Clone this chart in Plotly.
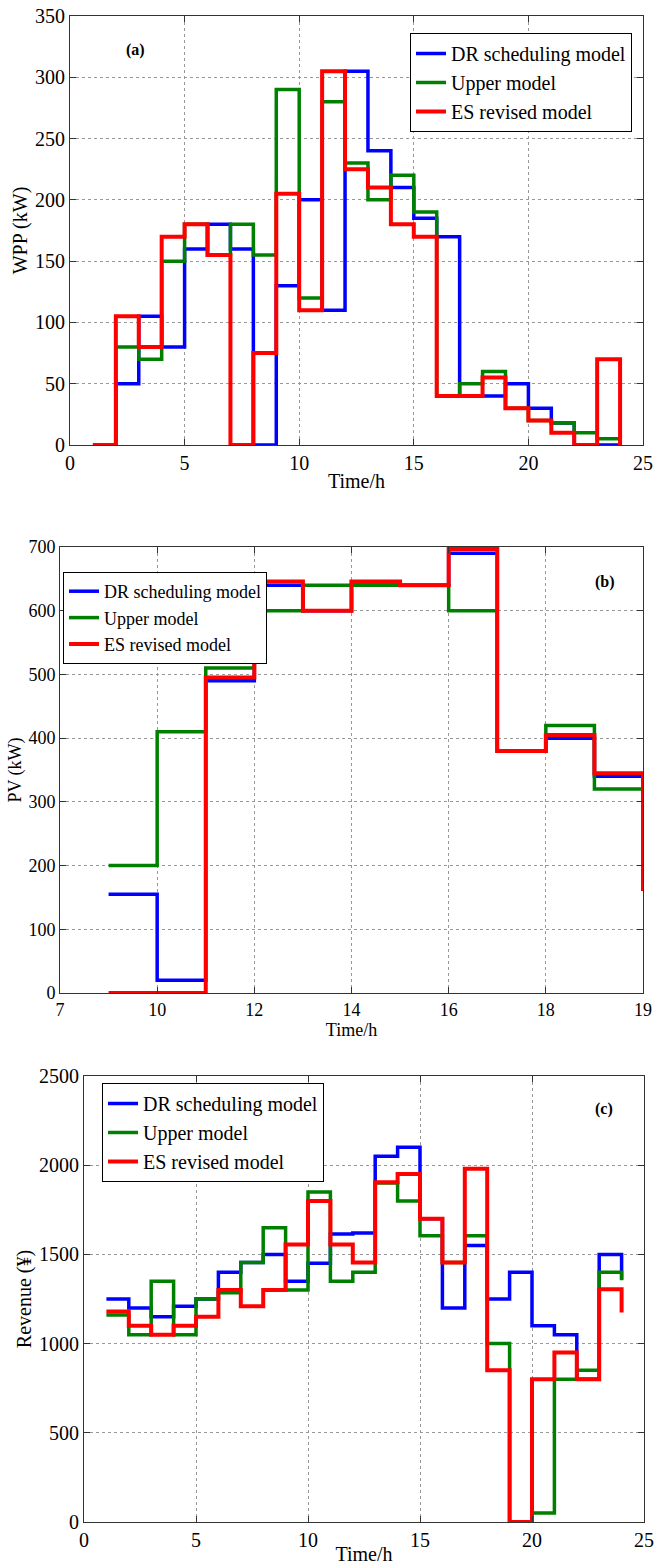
import plotly.graph_objects as go

W, H = 654, 1565

# ---------------- data ----------------
hours = list(range(1, 25))

# (a) WPP (kW), stairs: value i holds from hour i to hour i+1, last value = end point
wpp_dr = [0, 50, 105, 80, 160, 180, 160, 0, 130, 200, 110, 305, 240, 210, 185, 170, 40, 40, 50, 30, 18, 0, 0, 0]
wpp_upper = [0, 80, 70, 150, 180, 155, 180, 155, 290, 120, 280, 230, 200, 220, 190, 40, 50, 60, 30, 20, 18, 10, 5, 0]
wpp_es = [0, 105, 80, 170, 180, 155, 0, 75, 205, 110, 305, 225, 210, 180, 170, 40, 40, 55, 30, 20, 10, 0, 70, 0]

# (b) PV (kW)
pv_slots = list(range(1, 13))
pv_dr = [155, 20, 490, 640, 600, 645, 640, 690, 380, 400, 340, 340]
pv_upper = [200, 410, 510, 600, 640, 640, 640, 600, 380, 420, 320, 320]
pv_es = [0, 0, 495, 646, 600, 646, 640, 697, 380, 405, 345, 160]
pv_tick_vals = [0, 2, 4, 6, 8, 10, 12]
pv_tick_text = ["7", "10", "12", "14", "16", "18", "19"]

# (c) Revenue (¥)
rev_dr = [1250, 1200, 1150, 1210, 1250, 1400, 1455, 1500, 1350, 1450, 1615, 1620, 2050, 2100, 1700, 1200, 1550, 1250, 1400, 1100, 1050, 800, 1500, 1360]
rev_upper = [1160, 1050, 1350, 1050, 1250, 1285, 1455, 1650, 1300, 1850, 1350, 1400, 1900, 1800, 1605, 1455, 1605, 1000, 0, 50, 800, 850, 1400, 1355]
rev_es = [1180, 1100, 1050, 1100, 1150, 1300, 1210, 1300, 1555, 1800, 1555, 1455, 1905, 1950, 1700, 1455, 1980, 850, 0, 800, 950, 800, 1305, 1175]

series_names = ["DR scheduling model", "Upper model", "ES revised model"]
colors = ["#0000FF", "#008000", "#FF0000"]
widths = [3.5, 3.5, 4]

FONT = "Liberation Serif"

fig = go.Figure()

def add_panel(x, ys, xa, ya, legend):
    for name, y, c, w in zip(series_names, ys, colors, widths):
        fig.add_trace(go.Scatter(
            x=x, y=y, mode="lines", name=name,
            line=dict(color=c, width=w, shape="hv"),
            xaxis=xa, yaxis=ya, legend=legend,
        ))

add_panel(hours, [wpp_dr, wpp_upper, wpp_es], "x", "y", "legend")
add_panel(pv_slots, [pv_dr, pv_upper, pv_es], "x2", "y2", "legend2")
add_panel(hours, [rev_dr, rev_upper, rev_es], "x3", "y3", "legend3")

def px_x(p):
    return p / W

def px_y(p):
    return 1 - p / H

axis_common = dict(
    showline=True, linecolor="#333333", linewidth=1, mirror="ticks",
    ticks="inside", ticklen=6, tickcolor="#333333",
    showgrid=True, gridcolor="#999999", griddash="dot", gridwidth=1,
    zeroline=False, automargin=False,
)

def xax(domain, anchor, rng, fs, **kw):
    d = dict(axis_common)
    d.update(domain=domain, anchor=anchor, range=rng,
             tickfont=dict(family=FONT, size=fs, color="black"),
             title=dict(text="Time/h", font=dict(family=FONT, size=fs, color="black"), standoff=0))
    d.update(kw)
    return d

def yax(domain, anchor, rng, dtick, title, fs):
    d = dict(axis_common)
    d.update(domain=domain, anchor=anchor, range=rng, dtick=dtick,
             tickfont=dict(family=FONT, size=fs, color="black"),
             title=dict(text=title, font=dict(family=FONT, size=fs, color="black"), standoff=2))
    return d

fig.update_layout(
    width=W, height=H, margin=dict(l=0, r=0, t=0, b=0),
    paper_bgcolor="white", plot_bgcolor="white",
    font=dict(family=FONT, color="black"),
    showlegend=True,
    xaxis=xax([px_x(70), px_x(643)], "y", [0, 25], 20, dtick=5),
    yaxis=yax([px_y(445), px_y(16)], "x", [0, 350], 50, "WPP (kW)", 20),
    xaxis2=xax([px_x(60), px_x(643)], "y2", [0, 12], 18, tickmode="array",
               tickvals=pv_tick_vals, ticktext=pv_tick_text),
    yaxis2=yax([px_y(993), px_y(547)], "x2", [0, 700], 100, "PV (kW)", 18),
    xaxis3=xax([px_x(84), px_x(644)], "y3", [0, 25], 20, dtick=5),
    yaxis3=yax([px_y(1522), px_y(1076)], "x3", [0, 2500], 500, "Revenue (¥)", 20),
)

leg_common = dict(bgcolor="white", bordercolor="black", borderwidth=1,
                  xanchor="left", yanchor="top", tracegroupgap=0, itemwidth=30)
fig.update_layout(
    legend=dict(leg_common, x=px_x(410), y=px_y(33), font=dict(family=FONT, size=20, color="black")),
    legend2=dict(leg_common, x=px_x(63), y=px_y(572), font=dict(family=FONT, size=18, color="black")),
    legend3=dict(leg_common, x=px_x(102), y=px_y(1083), font=dict(family=FONT, size=20, color="black")),
)

for label, xp, yp in [("(a)", 135, 50), ("(b)", 605, 582), ("(c)", 604, 1109)]:
    fig.add_annotation(text="<b>" + label + "</b>", x=px_x(xp), y=px_y(yp),
                       xref="paper", yref="paper", xanchor="center", yanchor="middle",
                       showarrow=False,
                       font=dict(family=FONT, size=16, color="black"))

fig.write_html("out.html")
